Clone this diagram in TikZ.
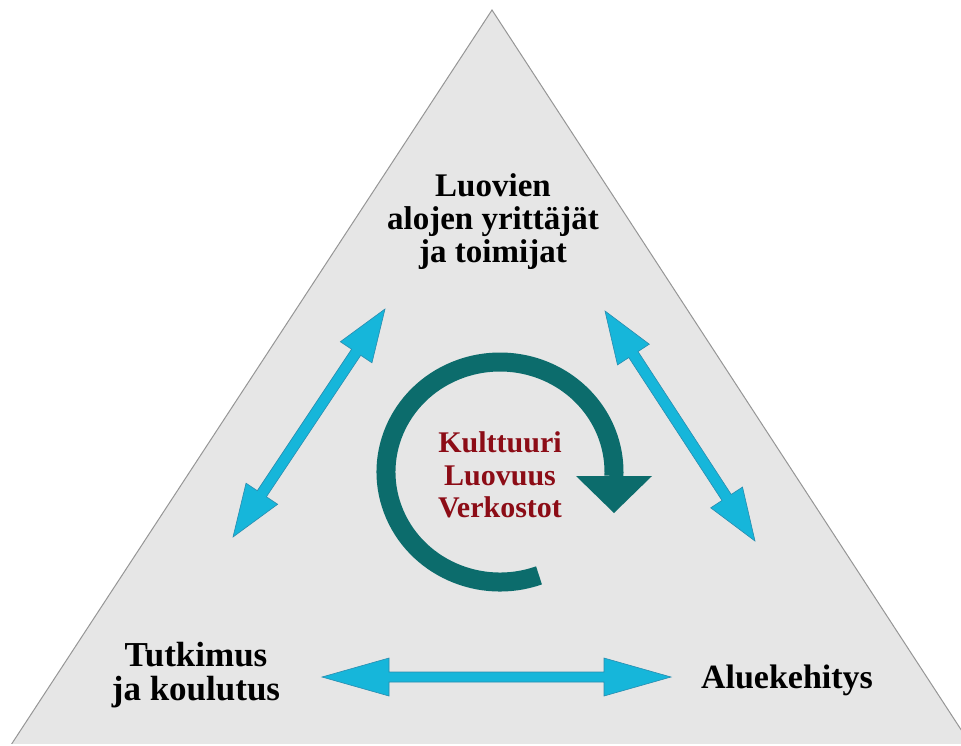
\documentclass[tikz,border=0pt]{standalone}
\usepackage{fontspec}
\setmainfont{Liberation Serif}
\usetikzlibrary{calc}
\definecolor{trifill}{RGB}{230,230,230}
\definecolor{triedge}{RGB}{150,150,150}
\definecolor{cyanfill}{RGB}{22,182,218}
\definecolor{cyanedge}{RGB}{40,140,175}
\definecolor{tealc}{RGB}{12,108,108}
\definecolor{redtext}{RGB}{140,12,22}
% #1,#2 tips, #3 head length, #4 head half width, #5 shaft half width
\newcommand\blockarrow[5]{%
  \filldraw[barrow]
    (#1) -- ($(#1)!#3!(#2)!#4!90:(#2)$) -- ($(#1)!#3!(#2)!#5!90:(#2)$)
    -- ($(#2)!#3!(#1)!#5!-90:(#1)$) -- ($(#2)!#3!(#1)!#4!-90:(#1)$)
    -- (#2) -- ($(#2)!#3!(#1)!#4!90:(#1)$) -- ($(#2)!#3!(#1)!#5!90:(#1)$)
    -- ($(#1)!#3!(#2)!#5!-90:(#2)$) -- ($(#1)!#3!(#2)!#4!-90:(#2)$) -- cycle;}
\begin{document}
\begin{tikzpicture}[x=1pt,y=-1pt,
  barrow/.style={fill=cyanfill, draw=cyanedge, line width=0.6pt, line join=miter},
  blbl/.style={anchor=base, inner sep=0pt, text=black, font=\bfseries\fontsize{34}{34}\selectfont},
  toplbl/.style={blbl, font=\bfseries\fontsize{33}{33}\selectfont},
  rlbl/.style={anchor=base, inner sep=0pt, text=redtext, font=\bfseries\fontsize{30}{30}\selectfont}]
\useasboundingbox (0,0) rectangle (961,745);
\begin{scope}
  \clip (0,0) rectangle (961,743);
  \fill[trifill] (492,10) -- (9,748) -- (973,748) -- cycle;
  \draw[triedge, line width=1pt] (9,748) -- (492,10) -- (973,748);
\end{scope}
% labels
\node[toplbl] (t1) at (493,196) {Luovien};
\node[toplbl] (t2) at (493,229) {alojen yrittäjät};
\node[toplbl] (t3) at (493,262) {ja toimijat};
\node[blbl, font=\bfseries\fontsize{35}{35}\selectfont] (l1) at (196,666) {Tutkimus};
\node[blbl, font=\bfseries\fontsize{35}{35}\selectfont] (l2) at (196,700) {ja koulutus};
\node[blbl] (r1) at (787,688) {Aluekehitys};
\node[rlbl] (c1) at (500,452) {Kulttuuri};
\node[rlbl] (c2) at (500,485) {Luovuus};
\node[rlbl] (c3) at (500,517) {Verkostot};
% double arrows
\coordinate (la) at (385,309); \coordinate (lb) at (233,537);
\coordinate (ra) at (605,311); \coordinate (rb) at (755,541);
\coordinate (ha) at (322,677); \coordinate (hb) at (671,677);
\blockarrow{la}{lb}{52pt}{19pt}{5.5pt}
\blockarrow{ra}{rb}{52pt}{19pt}{5.5pt}
\blockarrow{ha}{hb}{67pt}{19pt}{5pt}
% circular arrow
\coordinate (cc) at (500,472);
\draw[tealc, line width=19pt] ($(cc)+(70:114 and 110)$) arc[start angle=70, end angle=362, x radius=114, y radius=110];
\coordinate (ah) at (614,476);
\fill[tealc] ($(ah)+(-38,0)$) -- ($(ah)+(38,0)$) -- ($(ah)+(0,37)$) -- cycle;
\end{tikzpicture}
\end{document}
